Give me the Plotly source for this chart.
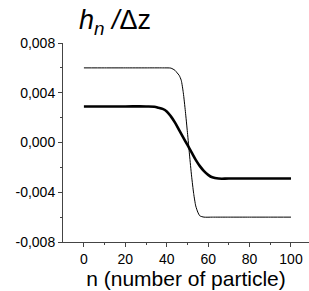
import plotly.graph_objects as go

n_thin = [0, 10, 20, 30, 38, 42, 44, 45, 46, 47, 48, 49, 50, 51, 52, 53, 54, 55, 56, 58, 62, 70, 80, 90, 100]
h_thin = [0.0060, 0.0060, 0.0060, 0.0060, 0.0060, 0.00598, 0.0058, 0.0056, 0.0054, 0.0050, 0.0040, 0.0025,
          0.0008, -0.0010, -0.0027, -0.0041, -0.0051, -0.0056, -0.0059, -0.0060, -0.0060, -0.0060, -0.0060,
          -0.0060, -0.0060]

n_thick = [0, 10, 20, 30, 34, 36, 38, 40, 42, 44, 46, 48, 50, 52, 54, 56, 58, 60, 62, 65, 70, 80, 90, 100]
h_thick = [0.0029, 0.0029, 0.0029, 0.0029, 0.00288, 0.0028, 0.0027, 0.0025, 0.0021, 0.0016, 0.0010, 0.0004,
           -0.0002, -0.0008, -0.0014, -0.0019, -0.0023, -0.0026, -0.0028, -0.0029, -0.0029, -0.0029,
           -0.0029, -0.0029]

x_ticks = [0, 20, 40, 60, 80, 100]
y_ticks = [-0.008, -0.004, 0.0, 0.004, 0.008]
y_tick_text = ["-0,008", "-0,004", "0,000", "0,004", "0,008"]

fig = go.Figure()
fig.add_trace(go.Scatter(x=n_thin, y=h_thin, mode="lines",
                         line=dict(color="black", width=1, shape="spline", smoothing=0.6)))
fig.add_trace(go.Scatter(x=n_thick, y=h_thick, mode="lines",
                         line=dict(color="black", width=2.6, shape="spline", smoothing=1.0)))

font = "Liberation Sans, Arial, sans-serif"
fig.update_layout(
    width=309, height=291,
    margin=dict(l=63, r=0, t=43, b=49),
    paper_bgcolor="white", plot_bgcolor="white",
    showlegend=False,
    font=dict(family=font, color="black", size=14),
    xaxis=dict(range=[-10.1, 108.7], tickvals=x_ticks, ticks="outside", ticklen=4, automargin=False,
               showline=True, linecolor="#444", linewidth=1, showgrid=False, zeroline=False,
               tickfont=dict(size=14), tickcolor="#444",
               minor=dict(tickvals=[10, 30, 50, 70, 90], ticks="outside", ticklen=2, tickcolor="#444"),
               title=dict(text="n (number of particle)", font=dict(size=21), standoff=0)),
    yaxis=dict(range=[-0.008, 0.008], tickvals=y_ticks, ticktext=y_tick_text, ticks="outside", ticklen=4,
               automargin=False,
               showline=True, linecolor="#444", linewidth=1, showgrid=False, zeroline=False,
               tickfont=dict(size=14), tickcolor="#444",
               minor=dict(tickvals=[-0.006, -0.002, 0.002, 0.006], ticks="outside", ticklen=2, tickcolor="#444")),
    annotations=[dict(text="<i>h<sub>n</sub> /</i>Δz", xref="paper", yref="paper",
                      x=0.055, y=1.0, xanchor="left", yanchor="bottom", yshift=2, showarrow=False,
                      font=dict(size=27, family=font))],
)
fig.write_html("out.html", config={"displayModeBar": False},
               post_script="document.body.style.margin='0';document.body.style.overflow='hidden';")
